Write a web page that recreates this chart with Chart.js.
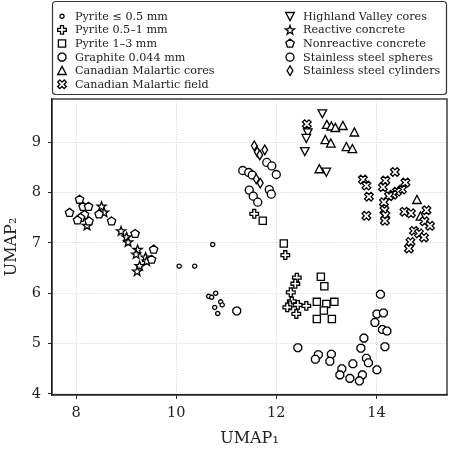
<!DOCTYPE html>
<html>
<head>
<meta charset="utf-8">
<script src="https://cdn.jsdelivr.net/npm/chart.js@4.4.0/dist/chart.umd.min.js"></script>
<style>
  html, body { margin: 0; padding: 0; background: #fff; }
</style>
</head>
<body>
<canvas id="chart" width="454" height="452"></canvas>
<script>
// axis ticks
const xTicks = [8, 10, 12, 14];
const yTicks = [4, 5, 6, 7, 8, 9];

// series, in legend order: [UMAP1, UMAP2]
const pyriteSmall = [[10.73,6.97],[10.06,6.54],[10.37,6.54],[10.65,5.94],[10.71,5.92],[10.79,6.00],
  [10.89,5.83],[10.92,5.77],[10.77,5.72],[10.83,5.60]];
const pyriteMid = [[11.56,7.58],[12.18,6.76],[12.41,6.31],[12.38,6.19],[12.29,6.02],[12.31,5.84],
  [12.27,5.76],[12.22,5.72],[12.43,5.77],[12.60,5.75],[12.40,5.59]];
const pyriteLarge = [[11.73,7.44],[12.15,6.99],[12.89,6.33],[12.96,6.14],[12.81,5.83],[13.00,5.79],
  [13.16,5.83],[12.95,5.66],[12.81,5.49],[13.11,5.49]];
const graphite = [[11.21,5.65],[14.08,5.98],[14.01,5.59],[14.14,5.61],[13.97,5.42],[14.12,5.28],
  [14.21,5.25],[13.75,5.11],[13.69,4.91],[14.17,4.94],[12.43,4.92],[12.84,4.78],[12.78,4.69],
  [13.10,4.79],[13.07,4.65],[13.53,4.60],[13.80,4.71],[13.84,4.62],[14.01,4.48],[13.31,4.50],
  [13.27,4.38],[13.47,4.31],[13.72,4.38],[13.66,4.26]];
const cmCores = [[13.01,9.35],[13.10,9.32],[13.18,9.29],[13.33,9.33],[13.56,9.20],[12.98,9.05],
  [13.09,8.98],[13.40,8.91],[13.52,8.87],[12.86,8.47],[14.81,7.86],[14.88,7.53]];
const cmField = [[12.61,9.36],[13.73,8.26],[13.80,8.14],[13.85,7.92],[13.80,7.54],[14.37,8.41],
  [14.18,8.24],[14.13,8.11],[14.58,8.20],[14.51,8.06],[14.41,8.02],[14.33,7.96],[14.25,7.93],
  [14.15,7.81],[14.16,7.65],[14.18,7.55],[14.17,7.44],[14.56,7.62],[14.69,7.59],[15.00,7.65],
  [14.96,7.43],[15.07,7.34],[14.75,7.24],[14.85,7.19],[14.95,7.11],[14.68,7.02],[14.65,6.89]];
const highland = [[12.92,9.57],[12.63,9.19],[12.60,9.08],[12.57,8.82],[13.00,8.41]];
const reactive = [[8.51,7.73],[8.56,7.61],[8.22,7.35],[8.90,7.24],[9.01,7.12],[9.04,7.02],
  [9.23,6.87],[9.20,6.78],[9.39,6.72],[9.41,6.64],[9.27,6.55],[9.22,6.44]];
const nonreactive = [[7.87,7.60],[8.07,7.86],[8.14,7.72],[8.25,7.72],[8.17,7.56],[8.09,7.50],
  [8.03,7.45],[8.26,7.43],[8.46,7.57],[8.71,7.43],[9.18,7.18],[9.55,6.87],[9.51,6.67]];
const spheres = [[11.33,8.44],[11.45,8.40],[11.52,8.35],[11.81,8.60],[11.91,8.53],[12.00,8.36],
  [11.46,8.05],[11.54,7.93],[11.63,7.81],[11.86,8.06],[11.90,7.97]];
const cylinders = [[11.56,8.93],[11.62,8.81],[11.67,8.75],[11.77,8.85],[11.60,8.27],[11.68,8.19]];

const labels = ['Pyrite \u2264 0.5 mm', 'Pyrite 0.5\u20131 mm', 'Pyrite 1\u20133 mm', 'Graphite 0.044 mm',
  'Canadian Malartic cores', 'Canadian Malartic field', 'Highland Valley cores', 'Reactive concrete',
  'Nonreactive concrete', 'Stainless steel spheres', 'Stainless steel cylinders'];
const series = [pyriteSmall, pyriteMid, pyriteLarge, graphite, cmCores, cmField, highland,
  reactive, nonreactive, spheres, cylinders];

// marker outlines, drawn as vectors so they stay crisp
function poly(g, pts) {
  pts.forEach((p, i) => i ? g.lineTo(p[0], p[1]) : g.moveTo(p[0], p[1]));
}
function ngon(n, r, rot) {
  const pts = [];
  for (let i = 0; i < n; i++) {
    const a = rot + i * 2 * Math.PI / n;
    pts.push([r * Math.sin(a), -r * Math.cos(a)]);
  }
  return pts;
}
function plusPts(h, a, rot) {
  const base = [[-a,-h],[a,-h],[a,-a],[h,-a],[h,a],[a,a],[a,h],[-a,h],[-a,a],[-h,a],[-h,-a],[-a,-a]];
  const c = Math.cos(rot), s = Math.sin(rot);
  return base.map(p => [p[0]*c - p[1]*s, p[0]*s + p[1]*c]);
}
function starPts(ro, ri) {
  const pts = [];
  for (let i = 0; i < 10; i++) {
    const r = i % 2 ? ri : ro;
    const a = i * Math.PI / 5;
    pts.push([r * Math.sin(a), -r * Math.cos(a) + 0.4]);
  }
  return pts;
}

const shapes = [
  g => g.arc(0, 0, 2.1, 0, 2 * Math.PI),
  g => poly(g, plusPts(4.3, 1.5, 0)),
  g => g.rect(-3.6, -3.6, 7.2, 7.2),
  g => poly(g, ngon(8, 4.2, Math.PI / 8)),
  g => poly(g, [[0,-4.3],[4.3,3.8],[-4.3,3.8]]),
  g => poly(g, plusPts(4.6, 1.5, Math.PI / 4)),
  g => poly(g, [[0,4.3],[4.3,-3.8],[-4.3,-3.8]]),
  g => poly(g, starPts(4.8, 2.0)),
  g => poly(g, ngon(5, 4.4, 0)),
  g => g.arc(0, 0, 4.0, 0, 2 * Math.PI),
  g => poly(g, [[0,-4.8],[2.9,0],[0,4.8],[-2.9,0]])
];

function drawMarker(ctx, i, x, y) {
  ctx.save();
  ctx.translate(x, y);
  ctx.lineWidth = 1.3;
  ctx.strokeStyle = '#000';
  ctx.fillStyle = '#fff';
  ctx.lineJoin = 'miter';
  ctx.beginPath();
  shapes[i](ctx);
  ctx.closePath();
  ctx.fill();
  ctx.stroke();
  ctx.restore();
}

const datasets = series.map((pts, i) => ({
  label: labels[i],
  data: pts.map(p => ({ x: p[0], y: p[1] })),
  pointRadius: 0,
  pointHoverRadius: 0,
  showLine: false
}));

// draw every point at the position Chart.js computed for it
const markers = {
  id: 'markers',
  afterDatasetsDraw(chart) {
    const ctx = chart.ctx;
    const a = chart.chartArea;
    ctx.save();
    ctx.beginPath();
    ctx.rect(a.left, a.top, a.right - a.left, a.bottom - a.top);
    ctx.clip();
    chart.data.datasets.forEach((ds, i) => {
      chart.getDatasetMeta(i).data.forEach(pt => drawMarker(ctx, i, pt.x, pt.y));
    });
    ctx.restore();
  }
};

const serif = 'DejaVu Serif';

// two-column framed legend, top of the figure
const boxLegend = {
  id: 'boxLegend',
  afterDraw(chart) {
    const ctx = chart.ctx;
    ctx.save();
    ctx.fillStyle = '#fff';
    ctx.strokeStyle = '#333';
    ctx.lineWidth = 1.2;
    ctx.beginPath();
    ctx.roundRect(52.5, 1.5, 394, 93, 3);
    ctx.fill();
    ctx.stroke();
    ctx.font = '11.2px "' + serif + '"';
    ctx.fillStyle = '#222';
    ctx.textBaseline = 'middle';
    chart.data.datasets.forEach((ds, i) => {
      const col = i < 6 ? 0 : 1;
      const row = i < 6 ? i : i - 6;
      const mx = col ? 290 : 62;
      const y = 16.3 + row * 13.6;
      drawMarker(ctx, i, mx, y);
      ctx.fillStyle = '#222';
      ctx.fillText(ds.label, mx + 13, y + 0.5);
    });
    ctx.restore();
  }
};

// top and right spines
const frame = {
  id: 'frame',
  beforeDatasetsDraw(chart) {
    const a = chart.chartArea;
    const ctx = chart.ctx;
    ctx.save();
    ctx.strokeStyle = '#222';
    ctx.lineWidth = 1.3;
    ctx.strokeRect(a.left, a.top, a.right - a.left, a.bottom - a.top);
    ctx.restore();
  }
};

new Chart(document.getElementById('chart'), {
  type: 'scatter',
  data: { datasets: datasets },
  plugins: [frame, markers, boxLegend],
  options: {
    responsive: false,
    animation: false,
    layout: { padding: { top: 99, right: 7, left: 0, bottom: 0 } },
    plugins: { legend: { display: false }, tooltip: { enabled: false } },
    scales: {
      x: {
        min: 7.52, max: 15.41,
        afterBuildTicks: s => { s.ticks = xTicks.map(v => ({ value: v })); },
        afterFit: s => { s.height = 57; },
        grid: { color: '#c8c8c8', lineWidth: 0.8, tickLength: 4, tickColor: '#222', tickWidth: 1 },
        border: { color: '#222', width: 1.3, dash: [1, 1.5] },
        ticks: { color: '#222', font: { family: serif, size: 14.5 }, padding: 6 },
        title: { display: true, text: 'UMAP\u2081', color: '#222', font: { family: serif, size: 16 }, padding: { top: 2, bottom: 4 } }
      },
      y: {
        min: 3.98, max: 9.86,
        afterBuildTicks: s => { s.ticks = yTicks.map(v => ({ value: v })); },
        afterFit: s => { s.width = 52; },
        grid: { color: '#c8c8c8', lineWidth: 0.8, tickLength: 4, tickColor: '#222', tickWidth: 1 },
        border: { color: '#222', width: 1.3, dash: [1, 1.5] },
        ticks: { color: '#222', font: { family: serif, size: 14.5 }, padding: 7 },
        title: { display: true, text: 'UMAP\u2082', color: '#222', font: { family: serif, size: 16 }, padding: { top: 2, bottom: 2 } }
      }
    }
  }
});
</script>
</body>
</html>
